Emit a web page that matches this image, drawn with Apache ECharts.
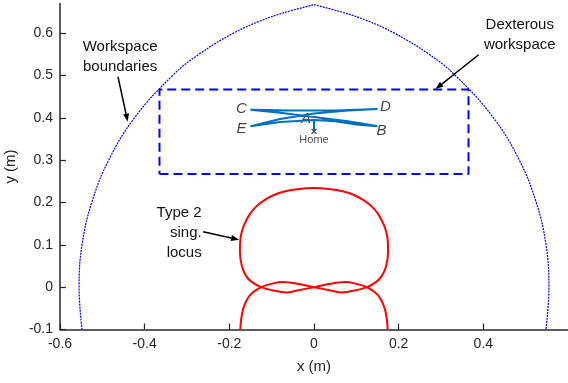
<!DOCTYPE html>
<html>
<head>
<meta charset="utf-8">
<script src="https://cdn.jsdelivr.net/npm/echarts@6/dist/echarts.min.js"></script>
<style>
html, body { margin: 0; padding: 0; background: #fff; }
#chart { width: 568px; height: 383px; }
</style>
</head>
<body>
<div id="chart"></div>
<script>
const xTicks = [-0.6, -0.4, -0.2, 0, 0.2, 0.4]
const yTicks = [-0.1, 0, 0.1, 0.2, 0.3, 0.4, 0.5, 0.6]

// workspace boundary: two arcs meeting at the top
const boundaryLeft = [[-0.548, -0.1], [-0.555, 0], [-0.548, 0.1], [-0.525, 0.2], [-0.485, 0.3], [-0.424, 0.4],
  [-0.334, 0.5], [-0.272, 0.55], [-0.19, 0.6], [-0.124, 0.63], [-0.065, 0.65], [0, 0.667]]
const boundaryRight = [[0, 0.667], [0.065, 0.65], [0.124, 0.63], [0.19, 0.6], [0.272, 0.55], [0.334, 0.5],
  [0.424, 0.4], [0.485, 0.3], [0.525, 0.2], [0.548, 0.1], [0.555, 0], [0.548, -0.1]]

const dexterousBox = [[-0.365, 0.267], [0.365, 0.267], [0.365, 0.467], [-0.365, 0.467], [-0.365, 0.267]]

// type 2 singularity locus, one continuous curve
const singLocus = [
  [-0.174, -0.1], [-0.172, -0.075], [-0.166, -0.047], [-0.151, -0.019], [-0.125, 0],
  [-0.096, 0.009], [-0.073, 0.012], [-0.04, 0.008], [0, 0], [0.04, -0.008], [0.065, -0.0125], [0.096, -0.008], [0.125, 0],
  [0.148, 0.013], [0.16, 0.026], [0.17, 0.048], [0.175, 0.085], [0.173, 0.12], [0.166, 0.145], [0.152, 0.172],
  [0.135, 0.192], [0.116, 0.206], [0.096, 0.217], [0.07, 0.226], [0.035, 0.232], [0, 0.234],
  [-0.035, 0.232], [-0.07, 0.226], [-0.096, 0.217], [-0.116, 0.206], [-0.135, 0.192], [-0.152, 0.172],
  [-0.166, 0.145], [-0.173, 0.12], [-0.175, 0.085], [-0.17, 0.048], [-0.16, 0.026], [-0.148, 0.013], [-0.125, 0],
  [-0.096, -0.008], [-0.065, -0.0125], [-0.04, -0.008], [0, 0], [0.04, 0.008], [0.073, 0.012], [0.096, 0.009], [0.125, 0],
  [0.151, -0.019], [0.166, -0.047], [0.172, -0.075], [0.174, -0.1]
]

// end-effector trajectory home -> A -> B -> C -> D -> E -> A ...
const trajectory = [
  [0, 0.368], [0, 0.395],
  [0.06, 0.394], [0.11, 0.387], [0.15, 0.38],
  [0.08, 0.392], [0, 0.402], [-0.08, 0.412], [-0.15, 0.419],
  [-0.05, 0.417], [0.05, 0.417], [0.15, 0.421],
  [0.08, 0.417], [0, 0.41], [-0.08, 0.397], [-0.15, 0.38],
  [-0.08, 0.39], [0, 0.395],
  [0.05, 0.392], [0.1, 0.384], [0.15, 0.38],
  [0.08, 0.39], [0.02, 0.394], [0, 0.395]
]

const waypointNames = ['A', 'B', 'C', 'D', 'E']
const waypointValues = [[0, 0.395], [0.15, 0.38], [-0.15, 0.42], [0.15, 0.421], [-0.15, 0.38]]
const homePoint = [0, 0.368]

const labelOffsets = { A: [-8, -1], B: [4, 5], C: [-9, -1], D: [8, -2], E: [-9, 3] }

const annotations = [
  { text: 'Workspace\nboundaries', at: [-0.458, 0.545], align: 'center', tail: [-0.463, 0.497], tip: [-0.44, 0.391] },
  { text: 'Dexterous\nworkspace', at: [0.486, 0.595], align: 'center', tail: [0.389, 0.549], tip: [0.287, 0.468] },
  { text: 'Type 2\nsing.\nlocus', at: [-0.2654, 0.129], align: 'right', tail: [-0.262, 0.131], tip: [-0.177, 0.112] }
]

const FONT = '"Liberation Sans", Arial, sans-serif'
const AXIS_COLOR = '#262626'

const chart = echarts.init(document.getElementById('chart'))

const axisCommon = {
  type: 'value',
  splitLine: { show: false },
  axisLine: { show: true, onZero: false, lineStyle: { color: AXIS_COLOR, width: 1.5 } },
  nameLocation: 'middle',
  nameTextStyle: { fontSize: 15, color: AXIS_COLOR, fontFamily: FONT }
}

const option = {
  animation: false,
  backgroundColor: '#fff',
  grid: { left: 60, right: 0, top: 3.5, bottom: 53.5, containLabel: false, outerBoundsMode: 'none' },
  xAxis: Object.assign({}, axisCommon, {
    min: -0.6,
    max: 0.6,
    name: 'x (m)',
    nameGap: 30,
    axisTick: { show: true, inside: true, length: 6, customValues: xTicks, lineStyle: { color: AXIS_COLOR, width: 1.2 } },
    axisLabel: { customValues: xTicks, color: AXIS_COLOR, fontSize: 14, margin: 8, fontFamily: FONT }
  }),
  yAxis: Object.assign({}, axisCommon, {
    min: -0.1,
    max: 0.67,
    name: 'y (m)',
    nameGap: 34,
    axisTick: { show: true, inside: true, length: 6, customValues: yTicks, lineStyle: { color: AXIS_COLOR, width: 1.2 } },
    axisLabel: { customValues: yTicks, color: AXIS_COLOR, fontSize: 14, margin: 7, fontFamily: FONT }
  }),
  series: [
    {
      type: 'line', data: boundaryLeft, symbol: 'none', smooth: 0.4,
      lineStyle: { color: '#0000ff', width: 1.2, type: [2, 1] }
    },
    {
      type: 'line', data: boundaryRight, symbol: 'none', smooth: 0.4,
      lineStyle: { color: '#0000ff', width: 1.2, type: [2, 1] }
    },
    {
      type: 'line', data: dexterousBox, symbol: 'none',
      lineStyle: { color: '#0000ff', width: 2, type: [9, 5] }
    },
    {
      type: 'line', data: singLocus, symbol: 'none', smooth: 0.3,
      lineStyle: { color: '#ff0000', width: 2 }
    },
    {
      type: 'line', data: trajectory, symbol: 'none',
      lineStyle: { color: '#0072bd', width: 2 }
    },
    {
      type: 'scatter',
      symbolSize: 0,
      data: waypointNames.map((n, i) => ({
        name: n,
        value: waypointValues[i],
        label: { offset: labelOffsets[n] }
      })),
      label: {
        show: true, position: 'inside', formatter: '{b}',
        fontSize: 15, fontStyle: 'italic', color: '#111', fontFamily: FONT
      }
    },
    {
      type: 'scatter',
      data: [{ name: 'Home', value: homePoint }],
      symbol: 'path://M0,0L10,10M10,0L0,10',
      symbolSize: 5,
      itemStyle: { color: 'transparent', borderColor: '#111', borderWidth: 1.3 },
      label: {
        show: true, position: 'inside', formatter: '{b}', offset: [0, 9],
        fontSize: 11, color: '#222', fontFamily: FONT
      }
    }
  ]
}

chart.setOption(option)

function arrow (p0, p1) {
  const dx = p1[0] - p0[0]
  const dy = p1[1] - p0[1]
  const len = Math.hypot(dx, dy)
  const ux = dx / len
  const uy = dy / len
  const hl = 8
  const hw = 3
  const bx = p1[0] - ux * hl
  const by = p1[1] - uy * hl
  return [
    { type: 'line', shape: { x1: p0[0], y1: p0[1], x2: bx, y2: by }, style: { stroke: '#000', lineWidth: 1.5 } },
    {
      type: 'polygon',
      shape: { points: [[p1[0], p1[1]], [bx - uy * hw, by + ux * hw], [bx + uy * hw, by - ux * hw]] },
      style: { fill: '#000' }
    }
  ]
}

const graphics = []
annotations.forEach(a => {
  const at = chart.convertToPixel({ gridIndex: 0 }, a.at)
  const tail = chart.convertToPixel({ gridIndex: 0 }, a.tail)
  const tip = chart.convertToPixel({ gridIndex: 0 }, a.tip)
  graphics.push({
    type: 'text',
    x: at[0],
    y: at[1],
    style: {
      text: a.text,
      align: a.align,
      verticalAlign: 'middle',
      lineHeight: 20,
      fontSize: 15,
      fontFamily: FONT,
      fill: '#111'
    }
  })
  arrow(tail, tip).forEach(g => graphics.push(g))
})
chart.setOption({ graphic: graphics })
</script>
</body>
</html>
